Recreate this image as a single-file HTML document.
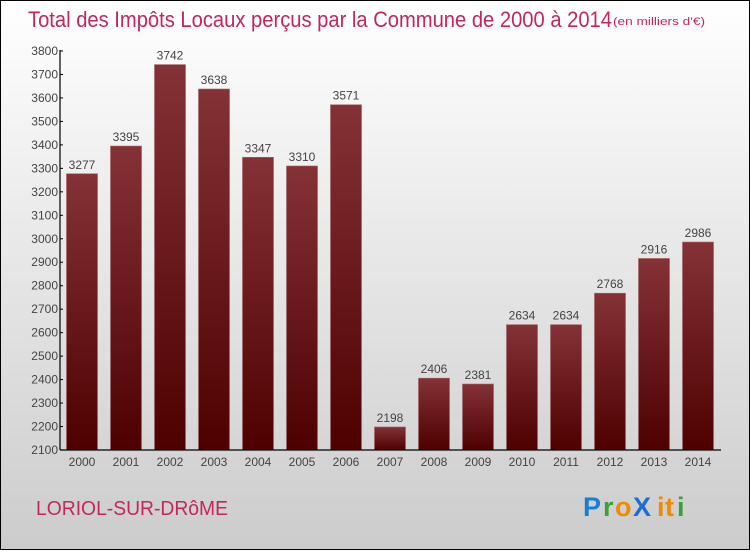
<!DOCTYPE html>
<html><head><meta charset="utf-8"><style>
html,body{margin:0;padding:0}
body{width:750px;height:550px;overflow:hidden;font-family:"Liberation Sans",sans-serif}
</style></head><body>
<svg width="750" height="550" xmlns="http://www.w3.org/2000/svg">
<defs>
<linearGradient id="bg" x1="0" y1="0" x2="0" y2="1"><stop offset="0" stop-color="#ffffff"/><stop offset="1" stop-color="#cccccc"/></linearGradient>
<linearGradient id="bar" x1="0" y1="0" x2="0" y2="1"><stop offset="0" stop-color="#843236"/><stop offset="1" stop-color="#4e0000"/></linearGradient>
</defs>
<rect x="0.5" y="0.5" width="749" height="549" fill="url(#bg)" stroke="#000"/>
<text x="28" y="27" font-size="22" fill="#c2285a" textLength="584" lengthAdjust="spacingAndGlyphs">Total des Impôts Locaux perçus par la Commune de 2000 à 2014</text>
<text x="613" y="25" font-size="11" fill="#c2285a" textLength="92" lengthAdjust="spacingAndGlyphs">(en milliers d'€)</text>
<g id="bars"></g>
<g id="axes"></g>
<text x="36" y="515" font-size="20" fill="#c2285a" textLength="192" lengthAdjust="spacingAndGlyphs">LORIOL-SUR-DRôME</text>
<g font-size="27" font-weight="bold">
<text x="583" y="516" fill="#1a7fd4">P</text><text x="603" y="516" fill="#3aa13a">r</text><text x="615" y="516" fill="#f08a00">o</text><text x="633" y="516" fill="#1a6fd0">X</text><text x="657" y="516" fill="#f08a00">i</text><text x="665" y="516" fill="#f08a00">t</text><text x="677" y="516" fill="#3aa13a">i</text>
</g>
</svg>
<script>
const years=["2000","2001","2002","2003","2004","2005","2006","2007","2008","2009","2010","2011","2012","2013","2014"];
const values=[3277,3395,3742,3638,3347,3310,3571,2198,2406,2381,2634,2634,2768,2916,2986];
const ticks=[2100,2200,2300,2400,2500,2600,2700,2800,2900,3000,3100,3200,3300,3400,3500,3600,3700,3800];
const NS="http://www.w3.org/2000/svg";
const y=v=>450-(v-2100)*(399/1700);
const xc=i=>82+i*44;
const bars=document.getElementById('bars'),axes=document.getElementById('axes');
function mk(tag,attrs,parent){const e=document.createElementNS(NS,tag);for(const k in attrs)e.setAttribute(k,attrs[k]);parent.appendChild(e);return e;}
values.forEach((v,i)=>{
  const r=mk('rect',{x:xc(i)-15.5,y:y(v),width:31,height:450-y(v),fill:'url(#bar)',stroke:'#a06064','stroke-width':0.6},bars);
  
  
  const t=mk('text',{x:xc(i),y:y(v)-5,'text-anchor':'middle','font-size':12,fill:'#444'},bars);
  t.textContent=v;
  
  
  const xl=mk('text',{x:xc(i),y:466,'text-anchor':'middle','font-size':12,fill:'#444'},axes);
  xl.textContent=years[i];
  
  
});
const ya=mk('line',{x1:60,y1:50,x2:60,y2:450,stroke:'#000','stroke-width':1.2},axes);


const xa=mk('line',{x1:60,y1:450,x2:721,y2:450,stroke:'#000','stroke-width':1.2},axes);


ticks.forEach(v=>{
  mk('line',{x1:60,y1:y(v),x2:63,y2:y(v),stroke:'#000'},axes);
  const t=mk('text',{x:58,y:y(v)+4,'text-anchor':'end','font-size':12,fill:'#444'},axes);
  t.textContent=v;
  
  
});
</script>
</body></html>
